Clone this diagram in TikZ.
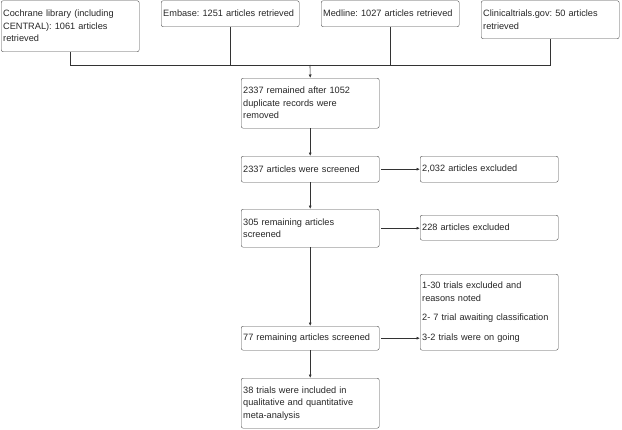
\documentclass[tikz,border=0pt]{standalone}
\usepackage{fontspec}
\setmainfont{Liberation Sans}
\usetikzlibrary{arrows.meta}

\newcommand{\boxfont}{\fontsize{9.2}{12.5}\selectfont\frenchspacing\hyphenpenalty=10000\relax}

\begin{document}
\begin{tikzpicture}[x=1pt, y=-1pt,
  box/.style={draw=black!70, rounded corners=2pt, anchor=north west,
    align=left, text width=134pt, inner xsep=2pt, inner ysep=2pt,
    text=black!85, font=\boxfont},
  ln/.style={draw=black!80, line width=0.6pt},
  arr/.style={ln, -{Latex[length=3.5pt, width=3pt]}}]

\useasboundingbox (0,0) rectangle (622,429);

% --- Sources ---
\node[box, minimum height=51pt] (coch) at (1,0.5)
  {Cochrane library (including\\CENTRAL): 1061 articles\\retrieved};
\node[box, minimum height=26pt] (emb) at (161,0.5)
  {Embase: 1251 articles retrieved};
\node[box, minimum height=26pt] (med) at (321,0.5)
  {Medline: 1027 articles retrieved};
\node[box, minimum height=38pt] (clin) at (481,0.5)
  {Clinicaltrials.gov: 50 articles\\retrieved};

% --- Main column ---
\node[box, minimum height=50pt] (rem) at (241,78)
  {2337 remained after 1052\\duplicate records were\\removed};
\node[box, minimum height=26pt] (scr) at (241,156)
  {2337 articles were screened};
\node[box, minimum height=38pt] (r305) at (241,209)
  {305 remaining articles\\screened};
\node[box, minimum height=24pt] (r77) at (241,326)
  {77 remaining articles screened};
\node[box, minimum height=50pt] (incl) at (241,378)
  {38 trials were included in\\qualitative and quantitative\\meta-analysis};

% --- Exclusions ---
\node[box, minimum height=26pt] (exc1) at (420,156)
  {2,032 articles excluded};
\node[box, minimum height=25pt] (exc2) at (420,215)
  {228 articles excluded};
\node[box, minimum height=76pt] (notes) at (420,274)
  {1-30 trials excluded and\\reasons noted\\[7pt]2- 7 trial awaiting classification\\[7pt]3-2 trials were on going};

% --- Merge of sources ---
\coordinate (join) at (310,65);
\draw[ln] (coch.south) |- (clin.south |- join) -- (clin.south);
\draw[ln] (emb.south) -- (emb.south |- join);
\draw[ln] (med.south) -- (med.south |- join);
\draw[arr] (join) -- (rem.north);

% --- Flow ---
\draw[arr] (rem) -- (scr);
\draw[arr] (scr) -- (r305);
\draw[arr] (r305) -- (r77);
\draw[arr] (r77) -- (incl);
\draw[arr] ([xshift=2pt]scr.east) -- (exc1.west |- scr.east);
\draw[arr] ([xshift=2pt]r305.east) -- (exc2.west |- r305.east);
\draw[arr] ([xshift=2pt]r77.east) -- (notes.west |- r77.east);

\end{tikzpicture}
\end{document}
